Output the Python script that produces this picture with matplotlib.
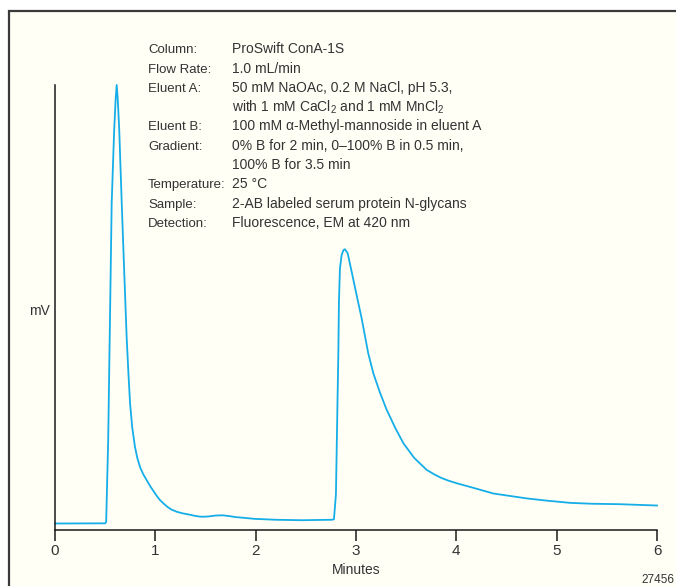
import matplotlib
matplotlib.use('Agg')
import matplotlib.pyplot as plt
from matplotlib.patches import Rectangle

plt.rcParams['font.family'] = ['Liberation Sans', 'DejaVu Sans']

# chromatogram trace (signal in arbitrary mV units, 0-100)
time_min = [0.0, 0.25, 0.50, 0.51, 0.53, 0.565, 0.59, 0.605, 0.615, 0.625, 0.64,
            0.665, 0.69, 0.714, 0.73, 0.748, 0.77, 0.797, 0.82, 0.85, 0.88, 0.914,
            0.95, 0.98, 1.01, 1.047, 1.08, 1.12, 1.16, 1.213, 1.27, 1.33, 1.39,
            1.445, 1.5, 1.55, 1.6, 1.67, 1.73, 1.8, 1.9, 1.99, 2.1, 2.2, 2.46,
            2.76, 2.78, 2.80, 2.815, 2.824, 2.83, 2.84, 2.857, 2.875, 2.889,
            2.917, 2.957, 3.006, 3.056, 3.122, 3.173, 3.24, 3.306, 3.39, 3.472,
            3.58, 3.705, 3.78, 3.85, 3.92, 4.004, 4.15, 4.369, 4.55, 4.701, 4.9,
            5.133, 5.35, 5.63, 6.0]
signal = [1.46, 1.48, 1.5, 1.8, 20.0, 73.5, 90.0, 97.0, 100.0, 97.0, 90.0,
          73.5, 58.0, 43.4, 36.0, 28.5, 23.0, 18.7, 16.2, 14.0, 12.5, 11.2,
          9.8, 8.8, 7.8, 6.7, 6.0, 5.2, 4.6, 4.1, 3.75, 3.5, 3.2,
          3.0, 3.0, 3.1, 3.25, 3.3, 3.15, 2.9, 2.7, 2.5, 2.4, 2.3, 2.2,
          2.3, 2.4, 8.0, 28.0, 39.7, 51.3, 58.8, 61.8, 62.9, 63.1,
          62.2, 58.0, 52.8, 47.6, 39.7, 35.2, 30.8, 27.0, 23.0, 19.5,
          16.2, 13.5, 12.5, 11.7, 11.1, 10.5, 9.6, 8.2, 7.6, 7.1, 6.6,
          6.1, 5.9, 5.8, 5.5]

x_ticks = [0, 1, 2, 3, 4, 5, 6]

cond_labels = ['Column:', 'Flow Rate:', 'Eluent A:', '', 'Eluent B:', 'Gradient:', '',
               'Temperature:', 'Sample:', 'Detection:']
cond_values = ['ProSwift ConA-1S',
               '1.0 mL/min',
               '50 mM NaOAc, 0.2 M NaCl, pH 5.3,',
               r'with 1 mM CaCl$\mathregular{_2}$ and 1 mM MnCl$\mathregular{_2}$',
               '100 mM α-Methyl-mannoside in eluent A',
               '0% B for 2 min, 0–100% B in 0.5 min,',
               '100% B for 3.5 min',
               '25 °C',
               '2-AB labeled serum protein N-glycans',
               'Fluorescence, EM at 420 nm']

W, H = 676, 586
fig = plt.figure(figsize=(W / 100, H / 100), dpi=100, facecolor='white')

# cream panel with frame on left and top
panel = Rectangle((9 / W, -0.05), 1.05, 1 - 11.5 / H + 0.05, transform=fig.transFigure,
                  facecolor='#fffff6', edgecolor='#3a3a3a', linewidth=1.6, zorder=0)
fig.add_artist(panel)

ax = fig.add_axes([55 / W, 1 - 530 / H, 602 / W, 445 / H])
ax.patch.set_alpha(0)
ax.plot(time_min, signal, color='#16aee8', linewidth=1.3, clip_on=False)

ax.set_xlim(0, 6)
ax.set_ylim(0, 100)
ax.set_xticks(x_ticks)
ax.set_yticks([])
ax.spines['top'].set_visible(False)
ax.spines['right'].set_visible(False)
for s in ['left', 'bottom']:
    ax.spines[s].set_color('#1a1a1a')
    ax.spines[s].set_linewidth(1.1)
ax.tick_params(axis='x', direction='out', length=8, width=1.1, color='#1a1a1a',
               labelsize=11, labelcolor='#333333', pad=2)
ax.set_xlabel('Minutes', fontsize=10, color='#333333', labelpad=4)

fig.text(39 / W, 1 - 311 / H, 'mV', fontsize=10, color='#333333', ha='center', va='center')
fig.text(674 / W, 1 - 583 / H, '27456', fontsize=8.5, color='#333333', ha='right', va='baseline')

base = 53.3
step = 19.28
for i, (lab, val) in enumerate(zip(cond_labels, cond_values)):
    yb = 1 - (base + i * step) / H
    if lab:
        fig.text(148 / W, yb, lab, fontsize=9.5, color='#333333', va='baseline')
    fig.text(232 / W, yb, val, fontsize=10, color='#333333', va='baseline')

fig.savefig('out.png', dpi=100, facecolor=fig.get_facecolor())
